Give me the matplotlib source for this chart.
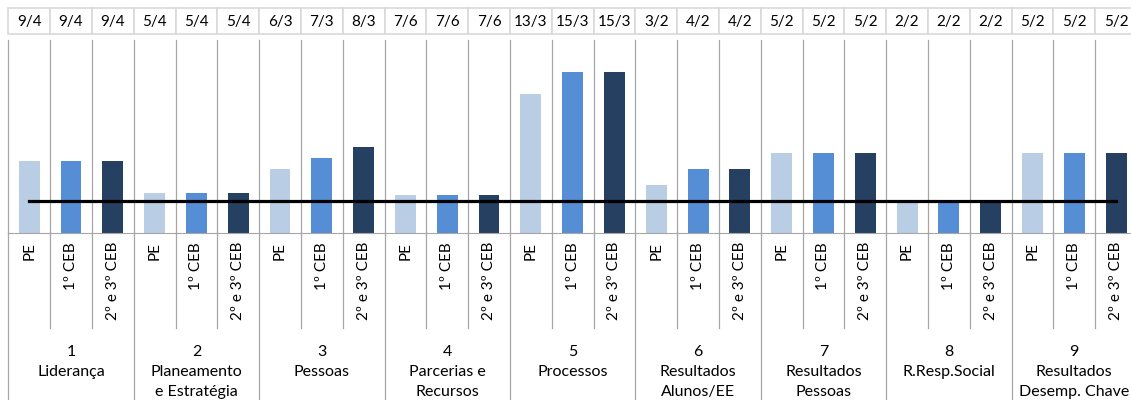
import matplotlib.pyplot as plt
import matplotlib.transforms as mtransforms
from matplotlib.patches import Rectangle

# data
groups = ["1\nLiderança", "2\nPlaneamento\ne Estratégia", "3\nPessoas",
          "4\nParcerias e\nRecursos", "5\nProcessos", "6\nResultados\nAlunos/EE",
          "7\nResultados\nPessoas", "8\nR.Resp.Social", "9\nResultados\nDesemp. Chave"]
levels = ["PE", "1º CEB", "2º e 3º CEB"]
numerators = [9, 9, 9, 5, 5, 5, 6, 7, 8, 7, 7, 7, 13, 15, 15, 3, 4, 4, 5, 5, 5, 2, 2, 2, 5, 5, 5]
denominators = [4, 4, 4, 4, 4, 4, 3, 3, 3, 6, 6, 6, 3, 3, 3, 2, 2, 2, 2, 2, 2, 2, 2, 2, 2, 2, 2]
target = [1] * 27

colors = ["#B9CDE5", "#558ED5", "#254061"]
grid_c = "#A6A6A6"
cell_c = "#D9D9D9"

plt.rcParams['font.family'] = ['Lato', 'DejaVu Sans']

W, H = 1131, 400
fig = plt.figure(figsize=(W / 100, H / 100), dpi=100)
x0, x1 = 8.3, 1137
ybase, ytop = 233, 40
ax = fig.add_axes([x0 / W, 1 - ybase / H, (x1 - x0) / W, (ybase - ytop) / H])

n = len(numerators)
xs = list(range(n))
vals = [a / b for a, b in zip(numerators, denominators)]
cols = [colors[i % 3] for i in range(n)]

ax.bar(xs, vals, width=0.5, color=cols, zorder=2)
ax.plot(xs, target, color="black", lw=2.3, zorder=3)

ax.set_xlim(-0.5, n - 0.5)
ax.set_ylim(0, 6)
for s in ["top", "left", "right"]:
    ax.spines[s].set_visible(False)
ax.spines["bottom"].set_color(grid_c)
ax.set_xticks([])
ax.set_yticks([])

ph = ybase - ytop
def ay(py):
    return (ybase - py) / ph

tr = mtransforms.blended_transform_factory(ax.transData, ax.transAxes)

# vertical lines in plot area and below axis
for k in range(n + 1):
    xv = k - 0.5
    ax.plot([xv, xv], [0, 1], color=grid_c, lw=0.9, transform=tr, clip_on=False, zorder=1)
    bottom = ay(400) if k % 3 == 0 else ay(328)
    ax.plot([xv, xv], [0, bottom], color=grid_c, lw=0.9, transform=tr, clip_on=False)

# top table of fractions
for k in range(n):
    ax.add_patch(Rectangle((k - 0.5, ay(34)), 1, ay(8) - ay(34), transform=tr,
                           facecolor="white", edgecolor=cell_c, lw=1.2, clip_on=False))
    ax.text(k, ay(22), f"{numerators[k]}/{denominators[k]}", transform=tr,
            ha="center", va="center", fontsize=11, clip_on=False)

# rotated level labels
for k in range(n):
    ax.text(k, ay(242), levels[k % 3], transform=tr, rotation=90,
            ha="center", va="top", fontsize=11, clip_on=False)

# group labels
for g, name in enumerate(groups):
    ax.text(3 * g + 1, ay(345), name, transform=tr, ha="center", va="top",
            fontsize=11.5, linespacing=1.55, clip_on=False)

fig.savefig("out.png", dpi=100)
